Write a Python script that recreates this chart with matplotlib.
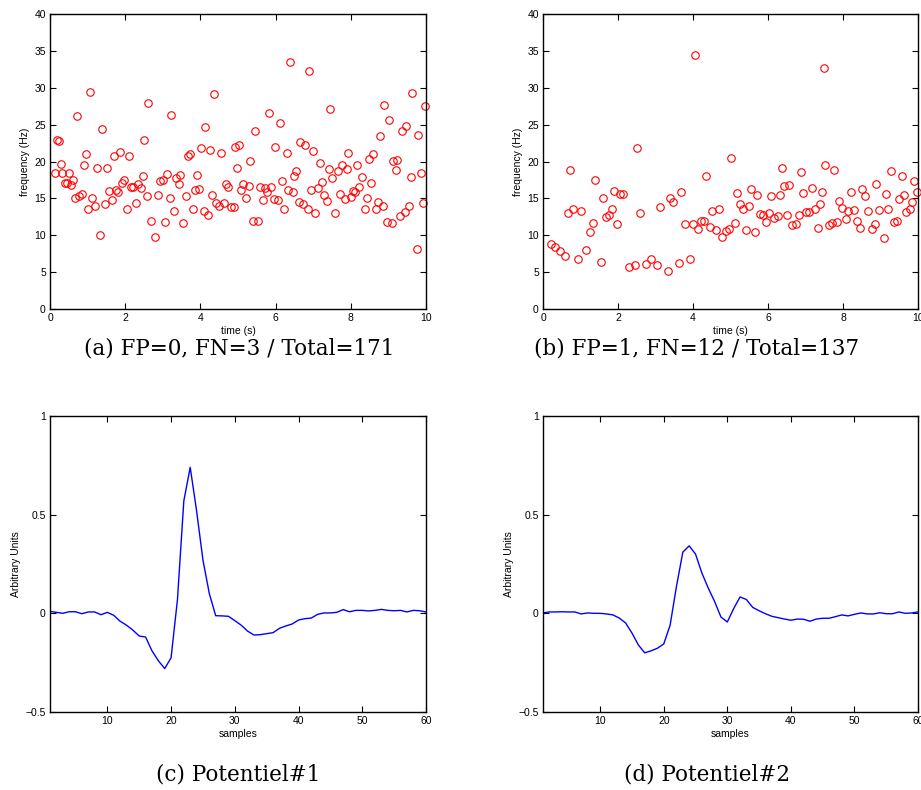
import matplotlib
matplotlib.use('Agg')
import matplotlib.pyplot as plt
import numpy as np

# (a) detected spikes: time (s), frequency (Hz)
t_a = [0.13, 0.18, 0.23, 0.28, 0.33, 0.39, 0.44, 0.50, 0.56, 0.62, 0.67, 0.72, 0.78, 0.85,
       0.90, 0.95, 1.01, 1.06, 1.12, 1.20, 1.24, 1.34, 1.39, 1.46, 1.51, 1.57, 1.64, 1.69,
       1.75, 1.81, 1.86, 1.92, 1.98, 2.05, 2.10, 2.15, 2.22, 2.29, 2.35, 2.41, 2.47, 2.51,
       2.58, 2.61, 2.69, 2.80, 2.87, 2.93, 3.00, 3.06, 3.12, 3.18, 3.21, 3.29, 3.36, 3.42,
       3.47, 3.55, 3.62, 3.68, 3.73, 3.79, 3.85, 3.91, 3.96, 4.01, 4.09, 4.13, 4.21, 4.26,
       4.32, 4.36, 4.42, 4.49, 4.55, 4.62, 4.68, 4.74, 4.81, 4.89, 4.93, 4.97, 5.03, 5.08,
       5.14, 5.20, 5.28, 5.32, 5.40, 5.44, 5.54, 5.59, 5.66, 5.72, 5.77, 5.83, 5.89, 5.95,
       5.99, 6.07, 6.11, 6.16, 6.23, 6.29, 6.34, 6.38, 6.45, 6.49, 6.54, 6.61, 6.66, 6.73,
       6.78, 6.85, 6.88, 6.94, 6.99, 7.06, 7.12, 7.18, 7.24, 7.30, 7.37, 7.42, 7.46, 7.51,
       7.59, 7.65, 7.72, 7.77, 7.84, 7.89, 7.93, 8.00, 8.06, 8.12, 8.17, 8.23, 8.29, 8.37,
       8.43, 8.48, 8.53, 8.59, 8.66, 8.72, 8.77, 8.85, 8.87, 8.95, 9.01, 9.09, 9.13, 9.19,
       9.24, 9.32, 9.37, 9.43, 9.48, 9.55, 9.61, 9.64, 9.75, 9.80, 9.86, 9.93, 9.97]
f_a = [18.5, 22.9, 22.8, 19.6, 18.4, 17.1, 17.1, 18.4, 16.8, 17.5, 15.1, 26.2, 15.3, 15.6,
       19.5, 21.0, 13.5, 29.4, 15.1, 13.9, 19.1, 10.0, 24.4, 14.2, 19.1, 16.0, 14.8, 20.8,
       16.1, 15.8, 21.3, 17.1, 17.5, 13.6, 20.7, 16.5, 16.6, 14.4, 16.9, 16.4, 18.1, 22.9,
       15.3, 27.9, 12.0, 9.7, 15.5, 17.4, 17.5, 11.8, 18.3, 15.1, 26.3, 13.3, 17.8, 16.9,
       18.2, 11.7, 15.3, 20.8, 21.0, 13.6, 16.1, 18.2, 16.3, 21.8, 13.3, 24.7, 12.7, 21.5,
       15.4, 29.2, 14.4, 13.9, 21.2, 14.4, 17.0, 16.6, 13.8, 13.8, 22.0, 19.1, 22.3, 16.1,
       17.0, 15.1, 16.7, 20.1, 11.9, 24.2, 11.9, 16.6, 14.8, 16.4, 15.8, 26.6, 16.5, 14.9,
       21.9, 14.8, 25.2, 17.4, 13.6, 21.1, 16.1, 33.5, 15.8, 18.0, 18.7, 14.5, 22.6, 14.3,
       22.3, 13.6, 32.3, 16.1, 21.4, 13.0, 16.4, 19.8, 17.2, 15.4, 14.7, 19.0, 27.1, 17.7,
       13.0, 18.7, 15.6, 19.5, 14.9, 19.0, 21.2, 15.2, 16.0, 15.8, 19.5, 16.5, 17.9, 13.5,
       15.1, 20.3, 17.1, 21.0, 13.6, 14.5, 23.4, 14.0, 27.6, 11.8, 25.6, 11.7, 20.1, 18.9,
       20.2, 12.6, 24.1, 13.1, 24.8, 14.0, 17.9, 29.3, 8.1, 23.6, 18.5, 14.4, 27.5]

# (b)
t_b = [0.20, 0.32, 0.44, 0.59, 0.66, 0.71, 0.80, 0.94, 1.02, 1.14, 1.24, 1.32, 1.38, 1.54,
       1.60, 1.68, 1.76, 1.83, 1.89, 1.98, 2.05, 2.12, 2.29, 2.46, 2.51, 2.58, 2.74, 2.89,
       3.05, 3.13, 3.32, 3.38, 3.46, 3.62, 3.68, 3.78, 3.91, 4.00, 4.04, 4.12, 4.20, 4.28,
       4.34, 4.44, 4.51, 4.61, 4.68, 4.78, 4.87, 4.97, 5.02, 5.11, 5.17, 5.24, 5.32, 5.40,
       5.48, 5.54, 5.64, 5.71, 5.78, 5.86, 5.94, 6.03, 6.09, 6.17, 6.26, 6.31, 6.36, 6.43,
       6.51, 6.56, 6.63, 6.75, 6.82, 6.87, 6.93, 7.02, 7.09, 7.16, 7.24, 7.32, 7.38, 7.45,
       7.48, 7.53, 7.62, 7.71, 7.76, 7.85, 7.90, 7.98, 8.07, 8.13, 8.20, 8.28, 8.36, 8.46,
       8.51, 8.59, 8.66, 8.76, 8.84, 8.89, 8.97, 9.08, 9.14, 9.21, 9.28, 9.36, 9.45, 9.50,
       9.56, 9.63, 9.69, 9.78, 9.84, 9.90, 9.97]
f_b = [8.8, 8.4, 7.8, 7.2, 13.0, 18.8, 13.5, 6.8, 13.3, 8.0, 10.5, 11.7, 17.5, 6.4,
       15.0, 12.5, 12.8, 13.6, 16.0, 11.5, 15.6, 15.6, 5.7, 5.9, 21.8, 13.0, 6.1, 6.8,
       6.0, 13.8, 5.2, 15.0, 14.5, 6.3, 15.9, 11.5, 6.8, 11.5, 34.5, 10.8, 12.0, 11.9,
       18.1, 11.1, 13.3, 10.7, 13.6, 9.8, 10.6, 10.8, 20.5, 11.6, 15.7, 14.3, 13.5, 10.7,
       14.0, 16.3, 10.4, 15.5, 12.9, 12.7, 11.8, 13.0, 15.3, 12.3, 12.6, 15.5, 19.1, 16.7,
       12.7, 16.8, 11.4, 11.5, 12.8, 18.6, 15.7, 13.1, 13.1, 16.4, 13.6, 11.0, 14.2, 15.8,
       32.7, 19.5, 11.4, 11.6, 18.9, 11.8, 14.7, 13.7, 12.2, 13.3, 15.9, 13.4, 12.0, 11.0,
       16.3, 15.3, 13.3, 10.9, 11.5, 17.0, 13.4, 9.6, 15.6, 13.6, 18.7, 11.8, 12.0, 14.9,
       18.1, 15.5, 13.1, 13.5, 14.5, 17.3, 15.8]

# spike waveforms, 60 samples
samples = np.arange(1, 61)
pot1 = [0.010, 0.005, 0.000, 0.008, 0.008, -0.002, 0.007, 0.007, -0.007, 0.005,
        -0.010, -0.040, -0.060, -0.085, -0.115, -0.120, -0.190, -0.240, -0.280, -0.225,
        0.070, 0.570, 0.740, 0.520, 0.270, 0.100, -0.012, -0.013, -0.015, -0.037,
        -0.060, -0.090, -0.110, -0.108, -0.103, -0.098, -0.076, -0.064, -0.054, -0.034,
        -0.027, -0.024, -0.005, 0.002, 0.002, 0.005, 0.019, 0.008, 0.015, 0.015,
        0.012, 0.015, 0.020, 0.015, 0.013, 0.015, 0.007, 0.015, 0.013, 0.007]
pot2 = [0.002, 0.007, 0.007, 0.008, 0.007, 0.007, -0.003, 0.002, 0.000, 0.000,
        -0.003, -0.008, -0.024, -0.049, -0.100, -0.160, -0.200, -0.190, -0.177, -0.155,
        -0.060, 0.137, 0.310, 0.342, 0.300, 0.204, 0.128, 0.060, -0.019, -0.044,
        0.024, 0.083, 0.070, 0.030, 0.013, -0.002, -0.015, -0.022, -0.029, -0.035,
        -0.029, -0.030, -0.040, -0.029, -0.025, -0.025, -0.017, -0.008, -0.013, -0.005,
        0.002, -0.003, -0.003, 0.003, -0.002, -0.002, 0.007, 0.000, 0.002, 0.007]

captions = ['(a) FP=0, FN=3 / Total=171', '(b) FP=1, FN=12 / Total=137',
            '(c) Potentiel#1', '(d) Potentiel#2']

plt.rcParams['font.family'] = ['Liberation Sans', 'DejaVu Sans']
plt.rcParams['font.size'] = 7.5

fig = plt.figure(figsize=(9.21, 7.90), dpi=100)
W, H = 921.0, 790.0


def make_ax(x0, y0, x1, y1):
    ax = fig.add_axes([x0 / W, 1 - y1 / H, (x1 - x0) / W, (y1 - y0) / H])
    ax.tick_params(direction='in', top=True, right=True, length=4, width=0.8,
                   labelsize=7.5, pad=3)
    for s in ax.spines.values():
        s.set_linewidth(1.0)
    return ax


def scatter_ax(ax, t, f):
    ax.plot(t, f, 'o', mfc='none', mec='red', ms=5.4, mew=0.8, clip_on=False)
    ax.set_xlim(0, 10)
    ax.set_ylim(0, 40)
    ax.set_xticks(range(0, 11, 2))
    ax.set_yticks(range(0, 41, 5))
    ax.set_xlabel('time (s)', fontsize=7.5, labelpad=2)
    ax.set_ylabel('frequency (Hz)', fontsize=7.5, labelpad=3)


def wave_ax(ax, y):
    ax.plot(samples, y, color='blue', lw=1.0)
    ax.set_xlim(1, 60)
    ax.set_ylim(-0.5, 1)
    ax.set_xticks(range(10, 61, 10))
    ax.set_yticks([-0.5, 0, 0.5, 1])
    ax.set_yticklabels(['\u22120.5', '0', '0.5', '1'])
    ax.set_xlabel('samples', fontsize=7.5, labelpad=2)
    ax.set_ylabel('Arbitrary Units', fontsize=7.5, labelpad=3)


ax1 = make_ax(50, 14, 426, 309)
scatter_ax(ax1, t_a, f_a)
ax2 = make_ax(543, 14, 918, 309)
scatter_ax(ax2, t_b, f_b)
ax3 = make_ax(50, 416, 426, 712)
wave_ax(ax3, pot1)
ax4 = make_ax(543, 416, 918, 712)
wave_ax(ax4, pot2)

cap_pos = [(239, 348), (697, 348), (238, 774), (707, 774)]
for (cx, cy), txt in zip(cap_pos, captions):
    fig.text(cx / W, 1 - cy / H, txt, ha='center', va='center',
             fontsize=15.5, family=['DejaVu Serif'])

fig.savefig('out.png', dpi=100)
